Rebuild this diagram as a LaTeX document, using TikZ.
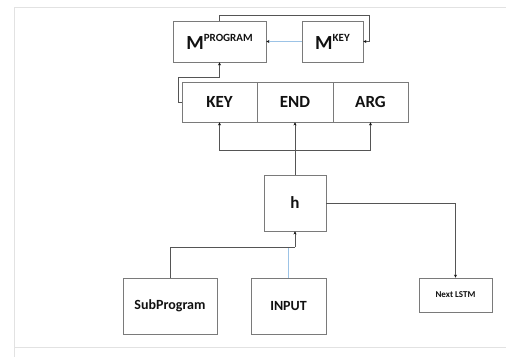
\documentclass[tikz,border=0pt]{standalone}
\usepackage{fontspec}
\setmainfont{Carlito}
\usetikzlibrary{arrows.meta}
\definecolor{boxgray}{HTML}{7A7A7A}
\definecolor{linegray}{HTML}{555555}
\definecolor{framegray}{HTML}{E2E2E2}
\definecolor{lblue}{HTML}{9CC3E6}
\definecolor{txt}{HTML}{111111}
\begin{document}
\begin{tikzpicture}[x=1pt,y=-1pt,
  box/.style={draw=boxgray,line width=0.8pt,rectangle,inner sep=0pt,text=txt,font=\bfseries},
  conn/.style={draw=linegray,line width=0.8pt},
  bconn/.style={draw=lblue,line width=0.8pt},
  arr/.style={-{Stealth[length=3pt,width=3pt,color=txt]}}]
\useasboundingbox (0,0) rectangle (506,357);
% faint frame
\draw[framegray,line width=1pt] (14,357) -- (14,7) -- (506,7);
\draw[framegray,line width=0.6pt] (14,347) -- (506,347);
% nodes
\node[box,minimum width=93pt,minimum height=41pt] (mprog) at (219.5,41.5)
  {\fontsize{20}{24}\selectfont M\raisebox{8pt}{\fontsize{11}{13}\selectfont PROGRAM}};
\node[box,minimum width=61pt,minimum height=41pt] (mkey) at (332.5,41.5)
  {\fontsize{20}{24}\selectfont M\raisebox{8pt}{\fontsize{11}{13}\selectfont KEY}};
\node[box,minimum width=75pt,minimum height=40pt,font=\bfseries\fontsize{17}{20}\selectfont] (key) at (219.5,102) {KEY};
\node[box,minimum width=76pt,minimum height=40pt,font=\bfseries\fontsize{17}{20}\selectfont] (end) at (295,102) {END};
\node[box,minimum width=75pt,minimum height=40pt,font=\bfseries\fontsize{17}{20}\selectfont] (arg) at (370.5,102) {ARG};
\node[box,minimum width=62pt,minimum height=56pt,font=\bfseries\fontsize{17}{20}\selectfont] (h) at (295,203) {h};
\node[box,minimum width=94pt,minimum height=56pt,font=\bfseries\fontsize{14}{17}\selectfont] (sub) at (170,306) {SubProgram};
\node[box,minimum width=75pt,minimum height=56pt,font=\bfseries\fontsize{14}{17}\selectfont] (input) at (288.5,306) {INPUT};
\node[box,minimum width=73pt,minimum height=34pt,font=\bfseries\fontsize{9}{11}\selectfont] (next) at (455.5,295) {Next LSTM};
% coordinates
\coordinate (t1) at (219.5,15);
\coordinate (t2) at (369,15);
\coordinate (t3) at (369,41.5);
\coordinate (k1) at (178,102);
\coordinate (k2) at (178,77);
\coordinate (k3) at (219.5,77);
\coordinate (split) at (295,150);
\coordinate (j) at (295,247);
\coordinate (ij) at (288.5,247);
% connectors
\draw[conn,arr] (mprog.north) -- (t1) -- (t2) -- (t3) -- (mkey.east);
\draw[bconn,arr] (mkey.west) -- (mprog.east);
\draw[conn,arr] (key.west) -- (k1) -- (k2) -- (k3) -- (mprog.south);
\draw[conn] (h.north) -- (split);
\draw[conn,arr] (split) -| (key.south);
\draw[conn,arr] (split) -- (end.south);
\draw[conn,arr] (split) -| (arg.south);
\draw[conn,arr] (h.east) -| (next.north);
\draw[bconn] (input.north) -- (ij) -- (j);
\draw[conn] (sub.north) |- (j);
\draw[conn,arr] (j) -- (h.south);
\end{tikzpicture}
\end{document}
